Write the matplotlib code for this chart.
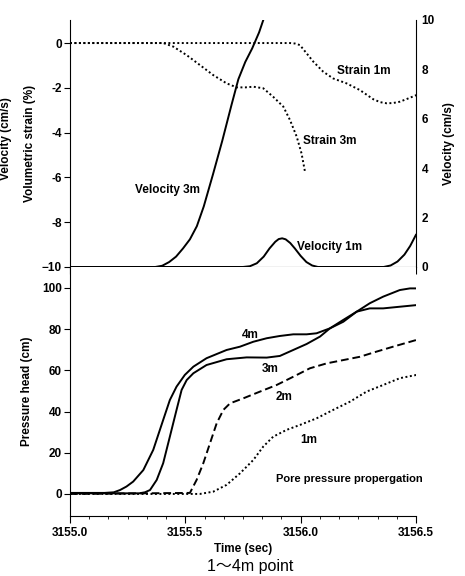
import matplotlib
matplotlib.use('Agg')
import matplotlib.pyplot as plt
from matplotlib.ticker import MultipleLocator, AutoMinorLocator

plt.rcParams['font.family'] = ['Liberation Sans', 'Noto Sans CJK JP', 'DejaVu Sans']
plt.rcParams['font.weight'] = 'bold'
plt.rcParams['axes.labelweight'] = 'bold'

# --- top panel: volumetric strain (%) and velocity (cm/s) ---
strain1_t = [3155.0, 3155.954, 3155.975, 3155.997, 3156.026, 3156.055, 3156.098, 3156.141,
             3156.199, 3156.257, 3156.315, 3156.345, 3156.373, 3156.400, 3156.430, 3156.465,
             3156.503]
strain1_v = [0, 0, -0.02, -0.09, -0.46, -0.83, -1.28, -1.58, -1.80, -2.10, -2.51, -2.64,
             -2.69, -2.68, -2.62, -2.48, -2.32]

strain3_t = [3155.0, 3155.405, 3155.448, 3155.506, 3155.563, 3155.621, 3155.679, 3155.723,
             3155.760, 3155.795, 3155.838, 3155.881, 3155.925, 3155.954, 3155.983, 3156.004,
             3156.019]
strain3_v = [0, 0, -0.16, -0.54, -0.98, -1.43, -1.80, -1.98, -1.98, -1.95, -2.02, -2.40, -2.84,
             -3.44, -4.18, -4.93, -5.75]

vel3_t = [3155.0, 3155.37, 3155.40, 3155.43, 3155.46, 3155.49, 3155.52, 3155.55, 3155.58,
          3155.62, 3155.66, 3155.70, 3155.73, 3155.76, 3155.79, 3155.82, 3155.84]
vel3_v = [0, 0, 0.05, 0.2, 0.42, 0.75, 1.12, 1.65, 2.45, 3.75, 5.1, 6.55, 7.6, 8.3, 8.85, 9.5,
          10.05]

vel1_t = [3155.0, 3155.75, 3155.78, 3155.81, 3155.84, 3155.865, 3155.89, 3155.905, 3155.92,
          3155.935, 3155.955, 3155.975, 3156.0, 3156.025, 3156.05, 3156.075, 3156.36,
          3156.39, 3156.42, 3156.45, 3156.475, 3156.5]
vel1_v = [0, 0, 0.03, 0.15, 0.42, 0.75, 1.02, 1.13, 1.16, 1.12, 0.97, 0.75, 0.45, 0.2, 0.06,
          0, 0, 0.06, 0.22, 0.5, 0.85, 1.3]

# --- bottom panel: pressure head (cm) ---
p4_t = [3155.0, 3155.15, 3155.19, 3155.217, 3155.245, 3155.274, 3155.318, 3155.361, 3155.404,
        3155.433, 3155.462, 3155.498, 3155.535, 3155.592, 3155.679, 3155.737, 3155.795,
        3155.853, 3155.910, 3155.968, 3156.026, 3156.069, 3156.127, 3156.185, 3156.243,
        3156.300, 3156.358, 3156.430, 3156.474, 3156.503]
p4_v = [0.5, 0.5, 0.8, 1.9, 3.6, 6.0, 11.6, 21.4, 35.9, 45.6, 52.1, 57.8, 61.8, 65.9, 69.9,
        71.5, 73.9, 75.6, 76.7, 77.5, 77.5, 78.0, 80.4, 83.6, 88.5, 92.6, 95.8, 99.0, 99.8,
        99.8]

p3_t = [3155.0, 3155.30, 3155.325, 3155.347, 3155.376, 3155.404, 3155.433, 3155.462,
        3155.484, 3155.506, 3155.535, 3155.592, 3155.679, 3155.766, 3155.853, 3155.910,
        3155.968, 3156.026, 3156.084, 3156.127, 3156.185, 3156.243, 3156.300, 3156.358,
        3156.430, 3156.503]
p3_v = [0.3, 0.3, 0.8, 1.9, 6.8, 14.9, 27.8, 40.8, 50.5, 55.3, 58.6, 62.6, 65.4, 66.3, 66.2,
        67.0, 69.9, 72.8, 76.4, 80.4, 84.5, 88.5, 90.1, 90.1, 90.9, 91.7]

p2_t = [3155.0, 3155.520, 3155.549, 3155.578, 3155.607, 3155.636, 3155.665, 3155.694,
        3155.751, 3155.824, 3155.896, 3155.968, 3156.040, 3156.113, 3156.185, 3156.257,
        3156.329, 3156.401, 3156.503]
p2_v = [0, 0.5, 6.8, 14.9, 24.6, 34.3, 40.8, 44.0, 46.4, 49.7, 52.9, 56.9, 61.0, 63.4, 65.0,
        66.6, 69.1, 71.5, 74.8]

p1_t = [3155.0, 3155.563, 3155.621, 3155.679, 3155.737, 3155.795, 3155.838, 3155.881,
        3155.939, 3155.997, 3156.069, 3156.141, 3156.214, 3156.286, 3156.358, 3156.430,
        3156.503]
p1_v = [0, 0, 1.1, 4.4, 10.0, 16.5, 23.0, 27.8, 31.1, 33.5, 36.7, 40.8, 44.8, 49.7, 52.9,
        56.2, 57.8]

DOT = (0, (1.0, 1.3))
DASH = (0, (4, 2))
lw = 1.4

fig = plt.figure(figsize=(4.65, 5.76), dpi=100)
ax1 = fig.add_axes([0.1505, 0.5365, 0.744, 0.4288])
ax3 = fig.add_axes([0.1505, 0.1042, 0.744, 0.4323])
ax2 = ax1.twinx()

# top
ax1.plot(strain1_t, strain1_v, color='black', lw=lw, ls=DOT)
ax1.plot(strain3_t, strain3_v, color='black', lw=lw, ls=DOT)
ax2.plot(vel3_t, vel3_v, color='black', lw=lw)
ax2.plot(vel1_t, vel1_v, color='black', lw=lw)

ax1.set_xlim(3155.0, 3156.5)
ax1.set_ylim(-10, 1.03)
ax2.set_ylim(0, 10)
ax1.set_yticks([0, -2, -4, -6, -8, -10])
ax1.set_yticklabels(['0', '-2', '-4', '-6', '-8', '\u221210'])
ax2.set_yticks([0, 2, 4, 6, 8, 10])
for ax in (ax1, ax2):
    ax.spines['top'].set_visible(False)
ax1.spines['right'].set_visible(False)
ax2.spines['left'].set_visible(False)
ax2.spines['bottom'].set_visible(False)
ax1.xaxis.set_major_locator(MultipleLocator(0.5))
ax1.xaxis.set_minor_locator(AutoMinorLocator(6))
ax1.tick_params(axis='x', which='major', direction='out', length=5, labelbottom=False)
ax1.tick_params(axis='x', which='minor', direction='out', length=2.5)
ax1.tick_params(axis='y', direction='out', length=4, labelsize=8.5, pad=2)
ax2.tick_params(axis='y', direction='in', length=0, labelsize=8.5, pad=4)

ax1.set_ylabel('Volumetric strain (%)', fontsize=8.5, labelpad=4)
ax2.set_ylabel('Velocity (cm/s)', fontsize=8.5, labelpad=6)
fig.text(0.012, 0.76, 'Velocity (cm/s)', rotation=90, ha='center', va='center',
         fontsize=8.5, fontweight='bold')

ax1.text(3156.157, -1.25, 'Strain 1m', fontsize=8.5, va='center')
ax1.text(3156.01, -4.38, 'Strain 3m', fontsize=8.5, va='center')
ax1.text(3155.28, -6.56, 'Velocity 3m', fontsize=8.5, va='center')
ax1.text(3155.985, -9.1, 'Velocity 1m', fontsize=8.5, va='center')

# bottom
ax3.plot(p4_t, p4_v, color='black', lw=lw)
ax3.plot(p3_t, p3_v, color='black', lw=lw)
ax3.plot(p2_t, p2_v, color='black', lw=lw, ls=DASH)
ax3.plot(p1_t, p1_v, color='black', lw=lw, ls=DOT)

ax3.set_xlim(3155.0, 3156.5)
ax3.set_ylim(-10.7, 110.2)
ax3.set_yticks([0, 20, 40, 60, 80, 100])
ax3.set_xticks([3155.0, 3155.5, 3156.0, 3156.5])
ax3.set_xticklabels(['3155.0', '3155.5', '3156.0', '3156.5'])
ax3.xaxis.set_minor_locator(AutoMinorLocator(6))
ax3.spines['top'].set_visible(False)
ax3.spines['right'].set_visible(False)
ax3.tick_params(axis='x', which='major', direction='out', length=5, labelsize=8.5, pad=3)
ax3.tick_params(axis='x', which='minor', direction='out', length=2)
ax3.tick_params(axis='y', direction='out', length=4, labelsize=8.5, pad=2)
ax3.set_ylabel('Pressure head (cm)', fontsize=8.5, labelpad=6)
ax3.set_xlabel('Time (sec)', fontsize=8.5, labelpad=3)

ax3.text(3155.745, 77.2, '4m', fontsize=8.5, va='center')
ax3.text(3155.83, 60.7, '3m', fontsize=8.5, va='center')
ax3.text(3155.89, 47.0, '2m', fontsize=8.5, va='center')
ax3.text(3156.0, 26.0, '1m', fontsize=8.5, va='center')
ax3.text(3155.895, 7.3, 'Pore pressure propergation', fontsize=8, va='center')

fig.text(0.537, 0.016, '1\uff5e4m point', ha='center', va='center', fontsize=11.5,
         fontweight='normal')

fig.savefig('out.png', dpi=100)
